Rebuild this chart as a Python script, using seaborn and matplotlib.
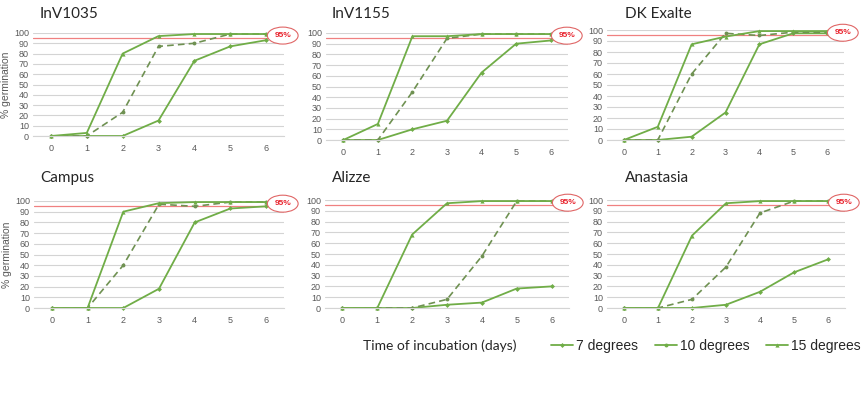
import numpy as np
import pandas as pd
import seaborn as sns
import matplotlib.pyplot as plt
from matplotlib.lines import Line2D
import matplotlib.transforms as mtransforms

# germination (%) per day of incubation
days = [0, 1, 2, 3, 4, 5, 6]
varieties = ["InV1035", "InV1155", "DK Exalte", "Campus", "Alizze", "Anastasia"]

deg15 = {
    "InV1035":   [0, 3, 80, 97, 99, 99, 99],
    "InV1155":   [0, 15, 97, 97, 99, 99, 99],
    "DK Exalte": [0, 12, 87, 94, 99, 99, 99],
    "Campus":    [0, 0, 90, 98, 99, 99, 99],
    "Alizze":    [0, 0, 68, 97, 99, 99, 99],
    "Anastasia": [0, 0, 67, 97, 99, 99, 99],
}
deg10 = {
    "InV1035":   [0, 0, 23, 87, 90, 99, 99],
    "InV1155":   [0, 0, 45, 95, 99, 99, 99],
    "DK Exalte": [0, 0, 60, 97, 95, 98, 98],
    "Campus":    [0, 0, 40, 97, 95, 99, 99],
    "Alizze":    [0, 0, 0, 8, 48, 99, 99],
    "Anastasia": [0, 0, 8, 38, 88, 99, 99],
}
deg7 = {
    "InV1035":   [0, 0, 0, 15, 73, 87, 93],
    "InV1155":   [0, 0, 10, 18, 63, 90, 93],
    "DK Exalte": [0, 0, 3, 25, 87, 97, 97],
    "Campus":    [0, 0, 0, 18, 80, 93, 95],
    "Alizze":    [0, 0, 0, 3, 5, 18, 20],
    "Anastasia": [0, 0, 0, 3, 15, 33, 45],
}
threshold = 95

sns.set_style("white")
plt.rcParams['font.family'] = ['Liberation Sans', 'DejaVu Sans']

green = "#70ad47"
green_dash = "#6f9152"
grid_c = "#d4d4d4"
tick_c = "#595959"

W, H = 868, 399
# axes boxes in pixels: left, right, top(100), bottom(0)
boxes = [
    (33, 284, 33, 136), (326, 568, 33, 140), (607, 844, 30, 140),
    (34, 284, 201, 308), (325, 569, 200, 308), (607, 845, 200, 308),
]
title_pos = [(40, 14), (332, 14), (625, 14), (40, 178), (332, 178), (625, 178)]

fig = plt.figure(figsize=(W / 100, H / 100), dpi=100)

for i, name in enumerate(varieties):
    l, r, t, b = boxes[i]
    ax = fig.add_axes([l / W, 1 - b / H, (r - l) / W, (b - t) / H])
    ax.set_xlim(-0.5, 6.5)
    ax.set_ylim(0, 100)
    ax.set_yticks(range(0, 101, 10))
    ax.set_xticks(days)
    ax.yaxis.grid(True, color=grid_c, lw=0.8)
    ax.set_axisbelow(True)
    for s in ["top", "right", "left"]:
        ax.spines[s].set_visible(False)
    ax.spines["bottom"].set_color(grid_c)
    ax.tick_params(length=0, labelsize=6.5, labelcolor=tick_c, pad=3)
    ax.tick_params(axis="x", pad=6)

    ax.axhline(threshold, color="#f08080", lw=0.9, zorder=1)

    sns.lineplot(x=days, y=deg7[name], ax=ax, color=green, lw=1.3,
                 marker="D", markersize=2.5, markeredgewidth=0, clip_on=False)
    sns.lineplot(x=days, y=deg10[name], ax=ax, color=green_dash, lw=1.2,
                 linestyle=(0, (4, 2.5)), marker="o", markersize=2.8,
                 markeredgewidth=0, clip_on=False)
    sns.lineplot(x=days, y=deg15[name], ax=ax, color=green, lw=1.3,
                 marker="^", markersize=3, markeredgewidth=0, clip_on=False)
    ax.set_xlabel("")
    if i % 3 == 0:
        ax.set_ylabel("% germination", fontsize=7.5, color=tick_c, labelpad=2)
    else:
        ax.set_ylabel("")

    trans = mtransforms.blended_transform_factory(ax.transAxes, ax.transData)
    ax.text(0.995, 97.5, "95%", transform=trans, ha="center", va="center",
            fontsize=6, fontweight="bold", color="#e8202a", zorder=5,
            bbox=dict(boxstyle="ellipse,pad=0.3", fc="white", ec="#e06666", lw=0.8),
            clip_on=False)

    tx, ty = title_pos[i]
    fig.text(tx / W, 1 - ty / H, name, fontsize=11, family=["Lato", "DejaVu Sans"],
             ha="left", va="center")

fig.text(440 / W, 1 - 346 / H, "Time of incubation (days)", fontsize=10,
         family=["Lato", "DejaVu Sans"], ha="center", va="center")

handles = [
    Line2D([], [], color=green, lw=1.3, marker="D", markersize=2.5, markeredgewidth=0),
    Line2D([], [], color=green, lw=1.3, marker="o", markersize=2.8, markeredgewidth=0),
    Line2D([], [], color=green, lw=1.3, marker="^", markersize=3, markeredgewidth=0),
]
fig.legend(handles, ["7 degrees", "10 degrees", "15 degrees"], ncol=3,
           loc="center", bbox_to_anchor=(706 / W, 1 - 346 / H), frameon=False,
           fontsize=10, handlelength=1.6, handletextpad=0.2, columnspacing=1.2)

fig.savefig("out.png", dpi=100)
